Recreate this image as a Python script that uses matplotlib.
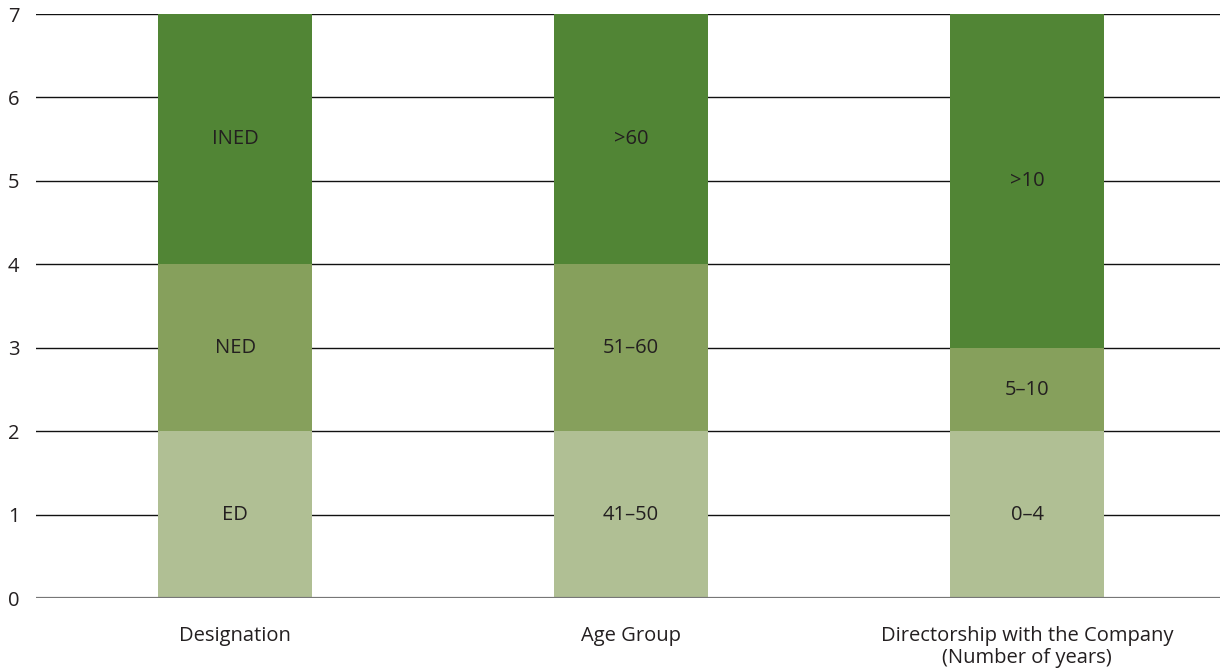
import matplotlib
matplotlib.use("Agg")
import matplotlib.pyplot as plt
import numpy as np

categories = ["Designation", "Age Group", "Directorship with the Company\n(Number of years)"]
seg_labels = [["ED", "NED", "INED"], ["41–50", "51–60", ">60"], ["0–4", "5–10", ">10"]]
seg_values = [[2, 2, 3], [2, 2, 3], [2, 1, 4]]
colors = ["#b0bf94", "#86a05c", "#518535"]
yticks = [0, 1, 2, 3, 4, 5, 6, 7]

plt.rcParams['font.family'] = ['Open Sans', 'DejaVu Sans']
txt = "#231f20"
fs = 14.5

fig = plt.figure(figsize=(12.2, 6.69), dpi=100)
ax = fig.add_axes([0.0295, 0.106, 0.9705, 0.873])

x = np.arange(len(categories))
width = 0.39
for i in range(len(categories)):
    bottom = 0
    for j, v in enumerate(seg_values[i]):
        ax.bar(x[i], v, width=width, bottom=bottom, color=colors[j], zorder=3, linewidth=0)
        ax.text(x[i], bottom + v / 2, seg_labels[i][j], ha="center", va="center",
                fontsize=fs, color=txt, zorder=4)
        bottom += v

for t in yticks[1:]:
    ax.axhline(t, color="#111111", lw=1.0, zorder=1)
ax.axhline(0, color="#777777", lw=1.6, zorder=5)

ax.set_xlim(-0.503, 2.487)
ax.set_ylim(0, 7)
ax.set_yticks(yticks)
ax.set_xticks(x)
ax.set_xticklabels(categories, fontsize=fs, color=txt, linespacing=1.15)
ax.tick_params(axis="both", length=0, labelsize=fs, labelcolor=txt)
ax.tick_params(axis="y", pad=12)
ax.tick_params(axis="x", pad=20)
for s in ax.spines.values():
    s.set_visible(False)

fig.savefig("out.png", dpi=100)
